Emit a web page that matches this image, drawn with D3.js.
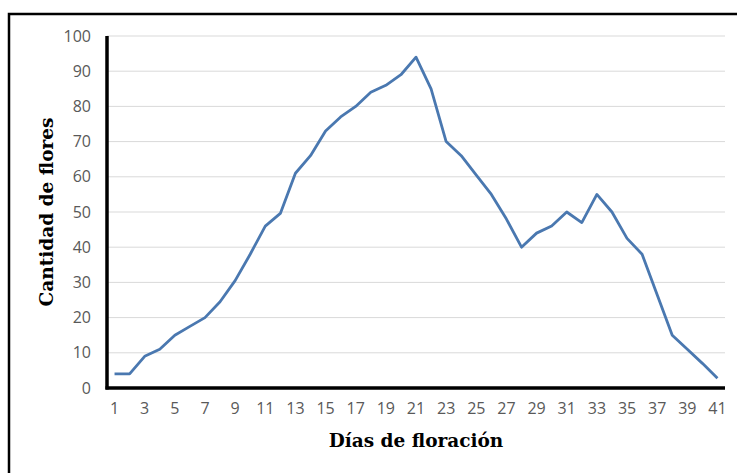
<!DOCTYPE html>
<html>
<head>
<meta charset="utf-8">
<script src="https://cdn.jsdelivr.net/npm/d3@7"></script>
<style>
  body { margin: 0; background: #fff; }
  svg { display: block; }
</style>
</head>
<body>
<div id="chart"></div>
<script>
// days of flowering and number of flowers per day
var days = d3.range(1, 42);
var flores = [4, 4, 9, 11, 15, 17.5, 20, 24.5, 30.5, 38, 46, 49.6, 61, 66, 73, 77, 80, 84, 86, 89, 94,
    85, 70, 66, 60.5, 55, 48, 40, 44, 46, 50, 47, 55, 50, 42.5, 38, 26.5, 15, 11, 7, 2.8];
var yTicks = [0, 10, 20, 30, 40, 50, 60, 70, 80, 90, 100];
var xTickLabels = days.filter(function (d) { return d % 2 === 1; });

var W = 737, H = 473;
var margin = { top: 36, right: 12, bottom: 85, left: 107 };
var width = 725 - margin.left,
    height = 388 - margin.top;

var svg = d3.select("#chart").append("svg")
    .attr("width", W)
    .attr("height", H);

// outer frame (only top and left visible in the picture)
svg.append("path")
    .attr("d", "M9,473 V14 H737")
    .attr("fill", "none")
    .attr("stroke", "#000")
    .attr("stroke-width", 2.5);

var g = svg.append("g")
    .attr("transform", "translate(" + margin.left + "," + margin.top + ")");

var x = d3.scaleBand().domain(days).range([0, width]);
var y = d3.scaleLinear().domain([0, 100]).range([height, 0]);

// gridlines
g.append("g")
    .selectAll("line")
    .data(yTicks.slice(1))
    .enter().append("line")
    .attr("x1", 0)
    .attr("x2", width)
    .attr("y1", function (d) { return y(d); })
    .attr("y2", function (d) { return y(d); })
    .attr("stroke", "#d9d9d9")
    .attr("stroke-width", 1);

// y axis labels
var yAxis = d3.axisLeft(y).tickValues(yTicks).tickSize(0).tickPadding(16);
g.append("g")
    .call(yAxis)
    .call(function (s) { s.select(".domain").remove(); })
    .selectAll("text")
    .style("font-family", "'Open Sans', sans-serif")
    .style("font-size", "16px")
    .attr("fill", "#595959");

// x axis labels (every other day)
var xAxis = d3.axisBottom(x).tickValues(xTickLabels).tickSize(0).tickPadding(15);
g.append("g")
    .attr("transform", "translate(0," + height + ")")
    .call(xAxis)
    .call(function (s) { s.select(".domain").remove(); })
    .selectAll("text")
    .style("font-family", "'Open Sans', sans-serif")
    .style("font-size", "16px")
    .attr("fill", "#595959");

// axis lines
g.append("line")
    .attr("x1", 0).attr("x2", 0)
    .attr("y1", 0).attr("y2", height + 1.5)
    .attr("stroke", "#000")
    .attr("stroke-width", 3.5);
g.append("line")
    .attr("x1", -1.5).attr("x2", width)
    .attr("y1", height).attr("y2", height)
    .attr("stroke", "#000")
    .attr("stroke-width", 3.5);

// the series line
var line = d3.line()
    .x(function (d, i) { return x(days[i]) + x.bandwidth() / 2; })
    .y(function (d) { return y(d); });

g.append("path")
    .datum(flores)
    .attr("d", line)
    .attr("fill", "none")
    .attr("stroke", "#4a78b0")
    .attr("stroke-width", 2.8)
    .attr("stroke-linejoin", "round");

// titles
svg.append("text")
    .attr("x", 416)
    .attr("y", 447)
    .attr("text-anchor", "middle")
    .style("font-family", "'DejaVu Serif', serif")
    .style("font-weight", "bold")
    .style("font-size", "18.5px")
    .text("Días de floración");

svg.append("text")
    .attr("transform", "translate(53,212) rotate(-90)")
    .attr("text-anchor", "middle")
    .style("font-family", "'DejaVu Serif', serif")
    .style("font-weight", "bold")
    .style("font-size", "18.5px")
    .text("Cantidad de flores");
</script>
</body>
</html>
